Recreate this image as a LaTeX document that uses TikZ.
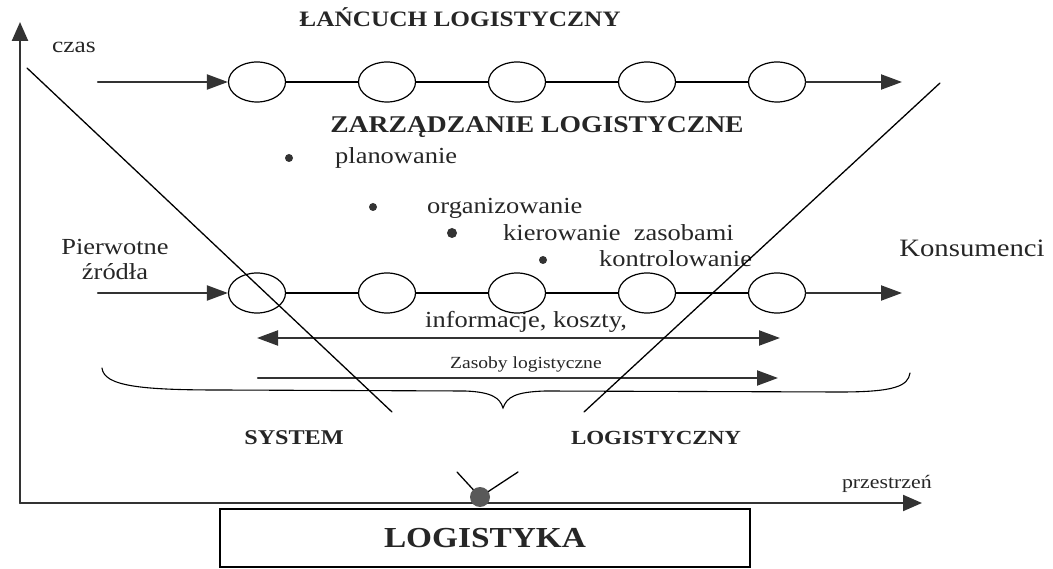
\documentclass[tikz,border=0pt]{standalone}
\usepackage{fontspec}
\setmainfont{Liberation Serif}[FakeStretch=1.15]
\usetikzlibrary{arrows.meta,shapes.geometric}

\newcommand{\fsz}[1]{\fontsize{#1}{#1}\selectfont}

\tikzset{bigtri/.tip={Triangle[length=21pt,width=15pt]}}

\begin{document}
\begin{tikzpicture}[x=1pt, y=-1pt, line cap=round,
    link/.style={line width=1.2pt},
    flow/.style={line width=2.1pt, draw=black!80, -bigtri},
    axis/.style={line width=2.4pt, draw=black!80,
                 -{Triangle[length=19pt,width=16pt]}},
    stage/.style={ellipse, draw, line width=1.2pt, minimum width=57pt,
                  minimum height=40pt, inner sep=0pt},
    diag/.style={line width=1.3pt},
    lbl/.style={inner sep=0pt, text=black!85, font=\fsz{23}},
    head/.style={inner sep=0pt, text=black!85},
    dot/.style={circle, fill=black!80, inner sep=0pt}
    ]
    \useasboundingbox (0,0) rectangle (1053,569);

    % axes
    \coordinate (origin) at (20,503);
    \coordinate (tend)   at (20,22);
    \coordinate (send)   at (922,503);
    \draw [axis] (origin) -- (tend);
    \draw [axis, line width=2pt] (origin) -- (send);
    \node [lbl, font=\fsz{22}, anchor=base west] (czas) at (52,53) {czas};
    \node [lbl, font=\fsz{19}, anchor=base east] (przestrzen) at (932,488) {przestrzeń};

    % both chains
    \foreach \k in {1,...,5}{
        \pgfmathsetmacro{\cx}{127+130*\k}
        \node [stage] (t\k) at (\cx,82) {};
        \node [stage] (b\k) at (\cx,293) {};
    }
    \foreach \k [remember=\k as \p (initially 1)] in {2,...,5}{
        \draw [link] (t\p) -- (t\k);
        \draw [link] (b\p) -- (b\k);
    }
    \coordinate (tin)  at (98,82);
    \coordinate (tout) at (902,82);
    \coordinate (bin)  at (98,293);
    \coordinate (bout) at (902,293);
    \draw [flow] (tin) -- (t1);
    \draw [flow] (t5) -- (tout);
    \draw [flow] (bin) -- (b1);
    \draw [flow] (b5) -- (bout);

    \node [head, font=\bfseries\fsz{22}, anchor=base] (lancuch) at (460,27)
        {ŁAŃCUCH LOGISTYCZNY};
    \node [head, font=\bfseries\fsz{24}, anchor=base] (zarzadzanie) at (537,133)
        {ZARZĄDZANIE LOGISTYCZNE};

    % functions
    \node [dot, minimum size=8pt] (d1) at (289,158) {};
    \node [dot, minimum size=8pt] (d2) at (373,207) {};
    \node [dot, minimum size=10pt] (d3) at (452,233) {};
    \node [dot, minimum size=8pt] (d4) at (543,260) {};
    \node [lbl, anchor=base west] (f1) at (335,164) {planowanie};
    \node [lbl, anchor=base west] (f2) at (427,214) {organizowanie};
    \node [lbl, anchor=base west] (f3) at (503,241) {kierowanie\ \ zasobami};
    \node [lbl, anchor=base west] (f4) at (599,267) {kontrolowanie};

    \node [lbl, anchor=base] (src1) at (115,255) {Pierwotne};
    \node [lbl, anchor=base] (src2) at (115,280) {źródła};
    \node [lbl, font=\fsz{25}, anchor=base] (konsumenci) at (972,257) {Konsumenci};

    % flows below the chain
    \coordinate (infoL) at (257,338);
    \coordinate (infoR) at (780,338);
    \coordinate (resL)  at (258,378);
    \coordinate (resR)  at (778,378);
    \draw [flow, bigtri-bigtri] (infoL) -- (infoR);
    \draw [flow] (resL) -- (resR);
    \node [lbl, anchor=base west] (info) at (425,328) {informacje, koszty,};
    \node [lbl, font=\fsz{17}, anchor=base west] (zasoby) at (450,369)
        {Zasoby logistyczne};

    % brace
    \draw [line width=1.1pt] (102,368) .. controls (104,386) and (140,390) .. (220,390)
        -- (465,391) .. controls (492,392) and (500,398) .. (503,408)
        .. controls (507,397) and (515,392) .. (545,391)
        -- (840,392) .. controls (895,392) and (908,386) .. (910,373);

    % system borders
    \coordinate (ltop) at (27,68);
    \coordinate (lbot) at (392,412);
    \coordinate (rtop) at (940,83);
    \coordinate (rbot) at (584,412);
    \draw [diag] (ltop) -- (lbot);
    \draw [diag] (rtop) -- (rbot);

    \node [head, font=\bfseries\fsz{21}, anchor=base] (system) at (294,445) {SYSTEM};
    \node [head, font=\bfseries\fsz{20}, anchor=base] (logist) at (656,445)
        {LOGISTYCZNY};

    % meeting point
    \node [dot, fill=black!65, minimum size=20pt] (knot) at (480,497) {};
    \coordinate (va) at (457,472);
    \coordinate (vb) at (518,472);
    \draw [diag] (va) -- (knot);
    \draw [diag] (vb) -- (knot);

    \node [draw, line width=1.3pt, minimum width=530pt, minimum height=58pt,
           inner sep=0pt, text=black!85, font=\bfseries\fsz{29}]
        (logistyka) at (485,538) {LOGISTYKA};
\end{tikzpicture}
\end{document}
